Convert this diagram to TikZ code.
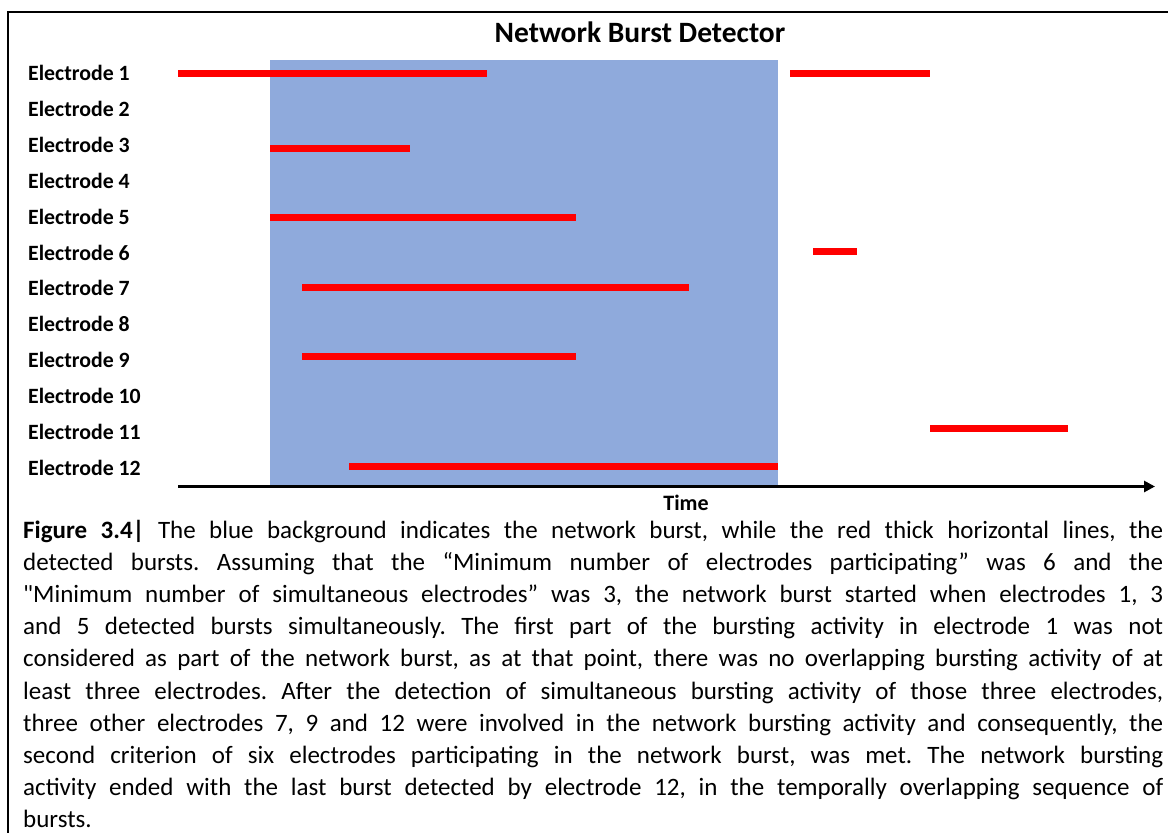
\documentclass[tikz,border=0pt]{standalone}
\usepackage{fontspec}
\setmainfont{Carlito}[Ligatures=TeXOff]
\usetikzlibrary{arrows.meta}
\definecolor{netblue}{RGB}{143,170,220}
\definecolor{burstred}{RGB}{255,0,0}
\frenchspacing

\begin{document}
\begin{tikzpicture}[x=1pt, y=-1pt,
    elabel/.style={anchor=west, inner sep=0pt, font=\fontsize{21.8}{24}\selectfont\bfseries},
    burst/.style={line width=7pt, burstred}]
    \useasboundingbox (0,0) rectangle (1168,833);
    % Frame
    \draw[line width=2pt] (8.3,833) -- (8.3,12) -- (1168,12);

    % Network burst (blue background)
    \fill[netblue] (270,60) rectangle (778,485);
    \node[inner sep=0pt, font=\fontsize{29.5}{32}\selectfont\bfseries] (title) at (640,32) {Network Burst Detector};

    % Electrode labels
    \foreach \i in {1,...,12}
        \node[elabel] (e\i) at (28,{73+(\i-1)*35.9}) {Electrode \i};

    % Detected bursts: start/end/height
    \foreach \xa/\xb/\yy in {178/487/73.7, 790/930/73.7, 270/410/148, 270/576/217,
        813/857/251, 302/689/287, 302/576/356, 930/1068/428, 349/778/466}
        \draw[burst] (\xa,\yy) -- (\xb,\yy);

    % Time axis
    \coordinate (t0) at (178,486.5);
    \coordinate (t1) at (1155,486.5);
    \draw[line width=3pt, -{Triangle[length=11pt,width=11pt]}] (t0) -- (t1);
    \node[inner sep=0pt, font=\fontsize{22}{24}\selectfont\bfseries] (time) at (686,503) {Time};

    % Caption
    \node[anchor=base west, inner sep=0pt, text width=1140pt, align=justify,
        font=\fontsize{25}{32.2}\selectfont] (caption) at (23,538)
        {\textbf{Figure 3.4|} The blue background indicates the network burst, while the red thick horizontal lines, the\linebreak
        detected bursts. Assuming that the “Minimum number of electrodes participating” was 6 and the\linebreak
        "Minimum number of simultaneous electrodes” was 3, the network burst started when electrodes 1, 3\linebreak
        and 5 detected bursts simultaneously. The first part of the bursting activity in electrode 1 was not\linebreak
        considered as part of the network burst, as at that point, there was no overlapping bursting activity of at\linebreak
        least three electrodes. After the detection of simultaneous bursting activity of those three electrodes,\linebreak
        three other electrodes 7, 9 and 12 were involved in the network bursting activity and consequently, the\linebreak
        second criterion of six electrodes participating in the network burst, was met. The network bursting\linebreak
        activity ended with the last burst detected by electrode 12, in the temporally overlapping sequence of\linebreak
        bursts.};
\end{tikzpicture}
\end{document}
